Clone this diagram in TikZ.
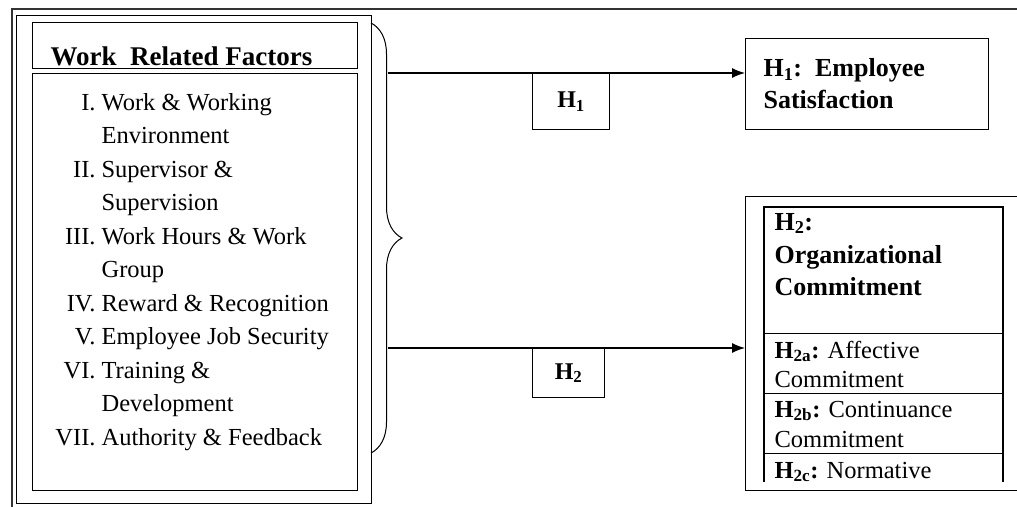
\documentclass[tikz,border=0pt]{standalone}
\usepackage{fontspec}
\setmainfont{Liberation Serif}
\usetikzlibrary{arrows.meta,decorations.pathreplacing,positioning}

\begin{document}
\begin{tikzpicture}[x=1pt,y=-1pt,line width=1.2pt,>={Latex[length=13pt,width=10pt]},
    box/.style={draw,inner sep=0pt,anchor=north west},
    hyp/.style={draw,inner sep=0pt,font=\bfseries\fontsize{24}{30}\selectfont},
    item/.style={anchor=base west,inner sep=0pt,font=\fontsize{24.5}{33.5}\selectfont},
    cell/.style={anchor=base west,inner sep=0pt,font=\fontsize{24.5}{30}\selectfont}]
	\useasboundingbox (0,0) rectangle (1017,506);
	\draw[black!80] (12,520) -- (12,9) -- (1030,9);

	% left block
	\node[box,minimum width=355pt,minimum height=488pt] (outer) at (16,15) {};
	\node[box,minimum width=325pt,minimum height=46pt] (titlebox) at (32,22) {};
	\node[box,minimum width=325pt,minimum height=417pt] (listbox) at (32,73) {};
	\node[anchor=base west,inner sep=0pt,font=\bfseries\fontsize{27}{30}\selectfont]
	 (title) at (50,65) {Work\ \ Related Factors};
	\foreach \k/\num/\txt in {1/I./Work \& Working, 2//Environment,
	  3/II./Supervisor \&, 4//Supervision, 5/III./Work Hours \& Work, 6//Group,
	  7/IV./Reward \& Recognition, 8/V./Employee Job Security, 9/VI./Training \&,
	  10//Development, 11/VII./Authority \& Feedback}
	 \node[item] (it\k) at (101,{110+33.5*(\k-1)}) {\llap{\num\hspace{6pt}}\txt};

	\draw[line width=1pt,decorate,decoration={brace,amplitude=31pt}] (371,23) -- (371,453);
	\coordinate (b1) at (388,73);
	\coordinate (b2) at (388,348);

	% right block
	\node[box,minimum width=243pt,minimum height=91pt,text width=207pt,inner xsep=18pt,
	 align=left,font=\bfseries\fontsize{26}{32}\selectfont] (sat) at (745,38)
	 {H\textsubscript{1}: Employee\\Satisfaction};
	\node[box,minimum width=290pt,minimum height=294pt] (orgbox) at (745,196) {};
	\draw (764,482) -- (764,207) -- (1003,207) -- (1003,482);
	\foreach \yy in {333,393,453}
	 \draw[line width=1pt] (764,\yy) -- (1003,\yy);
	\foreach \nm/\yy/\txt in {oa/230/H\textsubscript{2}:, ob/263/Organizational,
	  oc/295/Commitment}
	 \node[cell,font=\bfseries\fontsize{26}{30}\selectfont] (\nm) at (774,\yy) {\txt};
	\foreach \nm/\yy/\txt in {aa/358/{\textbf{H\textsubscript{2a}:} Affective},
	  ab/387/Commitment, ba/417/{\textbf{H\textsubscript{2b}:} Continuance},
	  bb/447/Commitment, ca/478/{\textbf{H\textsubscript{2c}:} Normative}}
	 \node[cell] (\nm) at (774,\yy) {\txt};

	% hypotheses
	\node[hyp,box,minimum width=77pt,minimum height=56pt] (h1) at (532,73) {H\textsubscript{1}};
	\node[hyp,box,minimum width=72pt,minimum height=49pt] (h2) at (532,348) {H\textsubscript{2}};
	\draw[->] (b1) -- (b1 -| sat.west);
	\draw[->] (b2) -- (b2 -| orgbox.west);
\end{tikzpicture}
\end{document}
